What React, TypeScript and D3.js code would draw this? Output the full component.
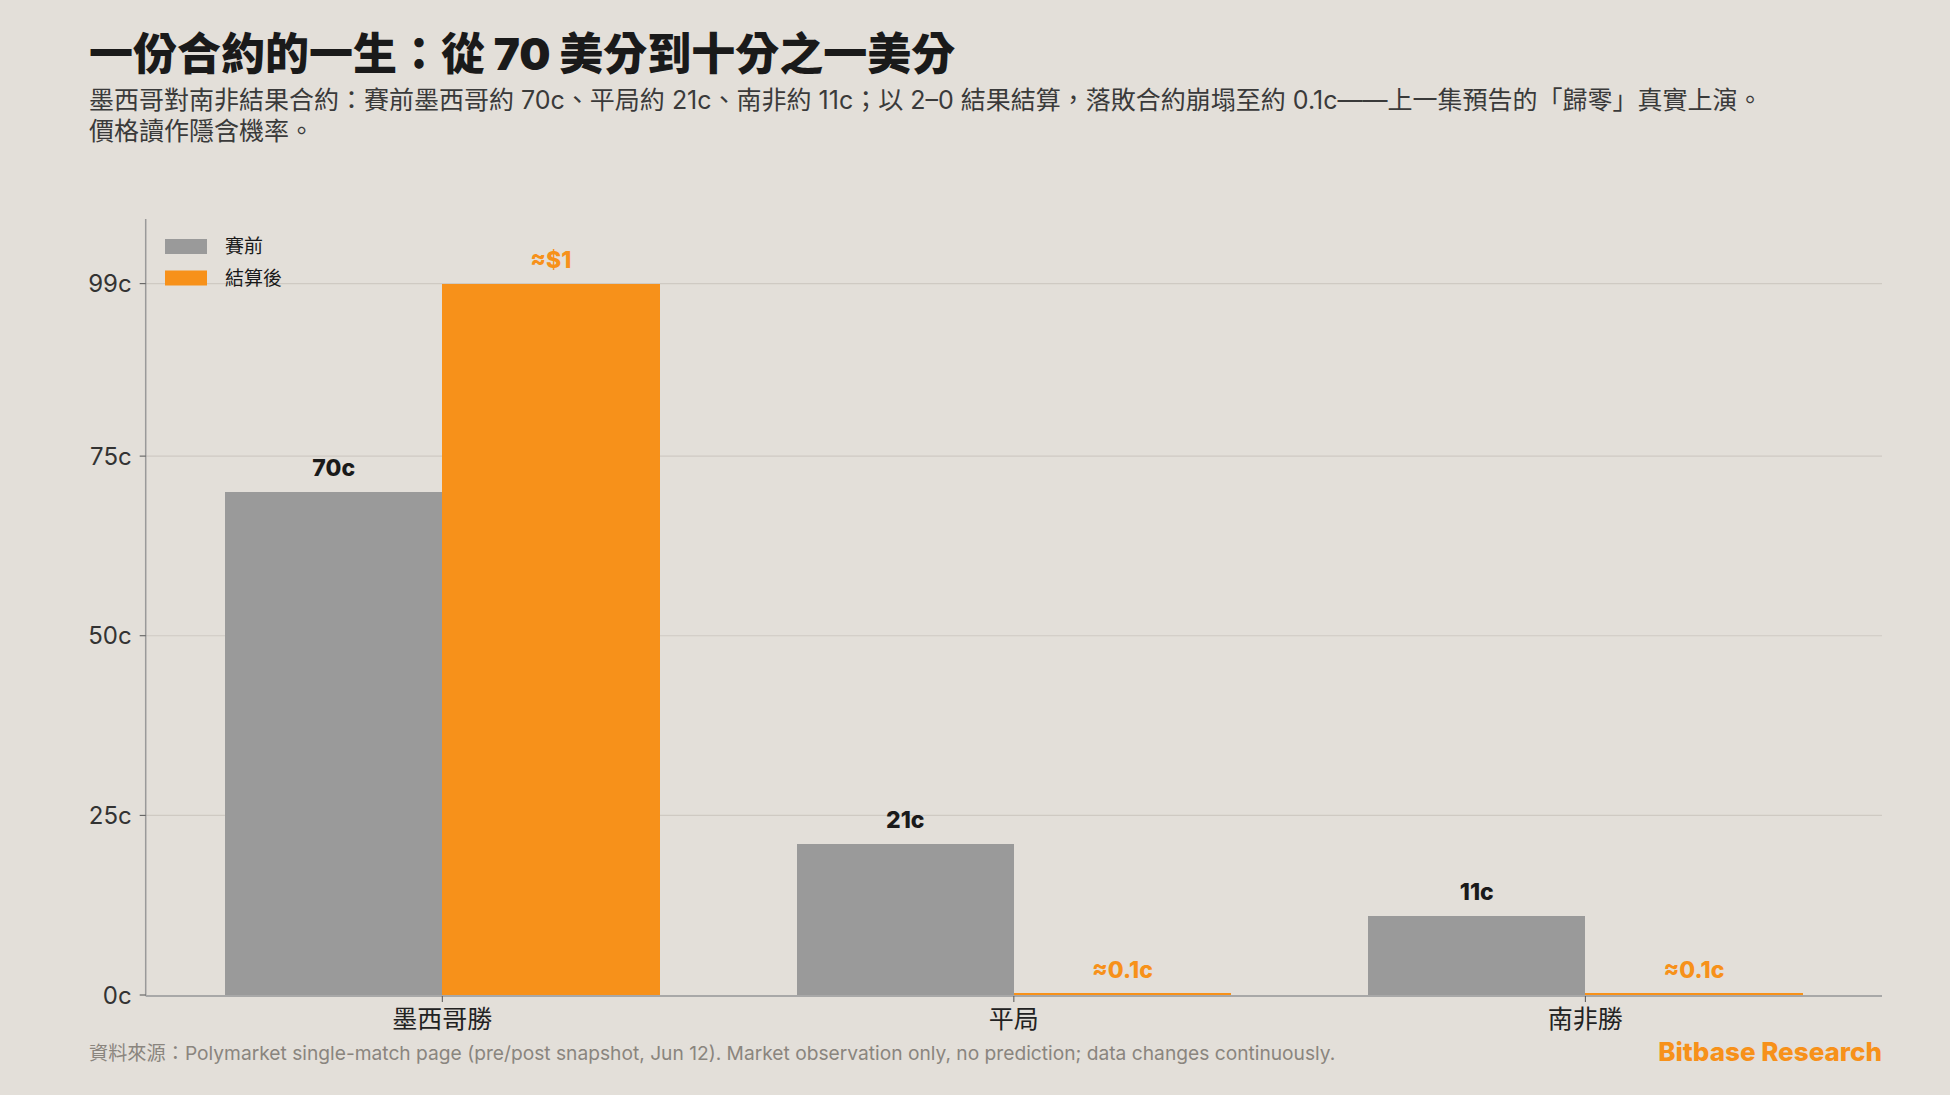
import React from 'react';
import * as d3 from 'd3';

// Outcome contracts and their prices in cents
const categories = ['墨西哥勝', '平局', '南非勝'];
const seriesNames = ['賽前', '結算後'];
const preMatch = [70, 21, 11];
const settled = [99, 0.1, 0.1];
const preLabels = ['70c', '21c', '11c'];
const settledLabels = ['≈$1', '≈0.1c', '≈0.1c'];
const yTicks = [0, 25, 50, 75, 99];
const yTickLabels = ['0c', '25c', '50c', '75c', '99c'];

const W = 1950;
const H = 1095;
const FONT = 'Inter, "Noto Sans CJK TC", "Noto Sans", sans-serif';
const BG = '#e3dfd9';
const GREY = '#9a9a9a';
const ORANGE = '#f7911a';

const plot = { left: 145.7, right: 1882, top: 219, bottom: 995 };

export default function App() {
  const y = d3.scaleLinear().domain([0, 108]).range([plot.bottom, plot.top]);
  const x0 = d3
    .scaleBand<string>()
    .domain(categories)
    .range([plot.left, plot.right])
    .paddingInner(0.24)
    .paddingOuter(0.139);
  const x1 = d3.scaleBand<string>().domain(seriesNames).range([0, x0.bandwidth()]).padding(0);
  const colors = [GREY, ORANGE];
  const series = [preMatch, settled];
  const labels = [preLabels, settledLabels];
  const labelColors = ['#1a1a1a', ORANGE];

  const barHeight = (v: number) => Math.max(2, y(0) - y(v));

  return (
    <svg
      width={W}
      height={H}
      style={{ position: 'absolute', left: 0, top: 0, background: BG, fontFamily: FONT }}
    >
      <rect x={0} y={0} width={W} height={H} fill={BG} />

      {/* Title and subtitle */}
      <text x={89} y={70} fontSize={44} fontWeight={900} fill="#1a1a1a">
        一份合約的一生：從 70 美分到十分之一美分
      </text>
      <text x={89} y={109} fontSize={25} fill="#3a3a3a">
        墨西哥對南非結果合約：賽前墨西哥約 70c、平局約 21c、南非約 11c；以 2–0 結果結算，落敗合約崩塌至約 0.1c——上一集預告的「歸零」真實上演。
      </text>
      <text x={89} y={140} fontSize={25} fill="#3a3a3a">
        價格讀作隱含機率。
      </text>

      {/* Grid lines */}
      {yTicks.filter((t) => t > 0).map((t) => (
        <line
          key={'g' + t}
          x1={plot.left}
          x2={plot.right}
          y1={y(t)}
          y2={y(t)}
          stroke="#cfcac3"
          strokeWidth={1.2}
        />
      ))}

      {/* Bars */}
      {categories.map((c, i) => (
        <g key={c} transform={`translate(${x0(c)},0)`}>
          {series.map((s, k) => {
            const h = barHeight(s[i]);
            return (
              <rect
                key={k}
                x={x1(seriesNames[k])}
                y={y(0) - h}
                width={x1.bandwidth()}
                height={h}
                fill={colors[k]}
                shapeRendering="crispEdges"
              />
            );
          })}
        </g>
      ))}

      {/* Value labels */}
      {categories.map((c, i) =>
        series.map((s, k) => (
          <text
            key={c + k}
            x={(x0(c) as number) + (x1(seriesNames[k]) as number) + x1.bandwidth() / 2}
            y={y(s[i]) - 16}
            textAnchor="middle"
            fontSize={23}
            fontWeight={800}
            fill={labelColors[k]}
          >
            {labels[k][i]}
          </text>
        ))
      )}

      {/* Axes */}
      <line x1={plot.left} x2={plot.left} y1={plot.top} y2={plot.bottom + 1} stroke="#9a9a9a" strokeWidth={1.5} />
      <line x1={plot.left} x2={plot.right} y1={plot.bottom + 1} y2={plot.bottom + 1} stroke="#a8a8a8" strokeWidth={2} />

      {yTicks.map((t, i) => (
        <g key={'t' + t}>
          <line x1={plot.left - 6} x2={plot.left} y1={y(t)} y2={y(t)} stroke="#555" strokeWidth={1} />
          <text
            x={plot.left - 14}
            y={y(t)}
            dy="0.36em"
            textAnchor="end"
            fontSize={24}
            fill="#333"
          >
            {yTickLabels[i]}
          </text>
        </g>
      ))}

      {categories.map((c) => {
        const cx = (x0(c) as number) + x0.bandwidth() / 2;
        return (
          <g key={'x' + c}>
            <line x1={cx} x2={cx} y1={plot.bottom + 1} y2={plot.bottom + 7} stroke="#555" strokeWidth={1} />
            <text x={cx} y={1028} textAnchor="middle" fontSize={25} fill="#222">
              {c}
            </text>
          </g>
        );
      })}

      {/* Legend */}
      {seriesNames.map((n, k) => (
        <g key={'l' + n} transform={`translate(165, ${239 + k * 31.5})`}>
          <rect x={0} y={0} width={42} height={15} fill={colors[k]} />
          <text x={60} y={7.5} dy="0.35em" fontSize={19} fill="#1a1a1a">
            {n}
          </text>
        </g>
      ))}

      {/* Footer */}
      <text x={89} y={1060} fontSize={19.2} fill="#8a857e">
        資料來源：Polymarket single-match page (pre/post snapshot, Jun 12). Market observation only, no prediction; data changes continuously.
      </text>
      <text x={1882} y={1061} textAnchor="end" fontSize={26} fontWeight={800} fill={ORANGE}>
        Bitbase Research
      </text>
    </svg>
  );
}
